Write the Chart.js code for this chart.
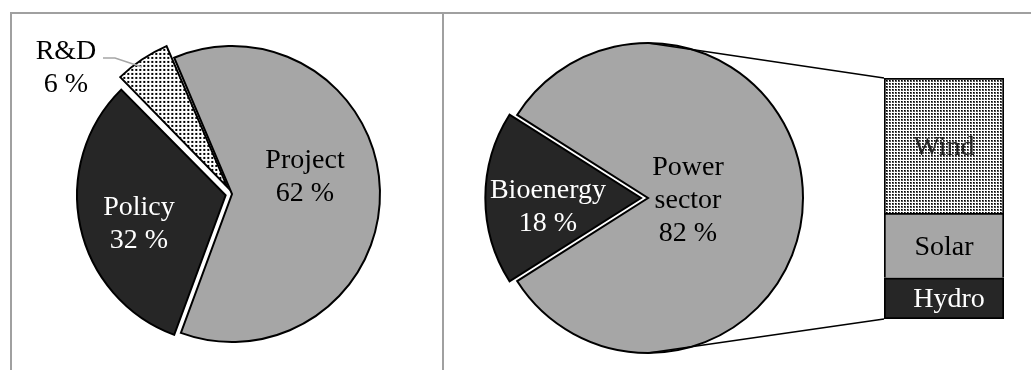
<!DOCTYPE html>
<html>
<head>
<meta charset="utf-8">
<script src="https://cdn.jsdelivr.net/npm/chart.js@4.4.1/dist/chart.umd.min.js"></script>
<style>
  html, body { margin: 0; padding: 0; background: #fff; overflow: hidden; width: 1031px; height: 370px; }
  #wrap { position: relative; width: 1031px; height: 370px; }
  canvas { position: absolute; }
  .rule { position: absolute; background: #a0a0a0; }
</style>
</head>
<body>
<div id="wrap">
  <div class="rule" style="left:10px;top:12px;width:1021px;height:2px"></div>
  <div class="rule" style="left:10px;top:12px;width:2px;height:358px"></div>
  <div class="rule" style="left:442px;top:12px;width:2px;height:358px"></div>
  <canvas id="fundingPie" width="464" height="370" style="left:0;top:0"></canvas>
  <canvas id="powerBar" width="128" height="249" style="left:880px;top:74px"></canvas>
  <canvas id="sectorPie" width="579" height="370" style="left:452px;top:0"></canvas>
</div>
<script>
// Funding by type of support (%)
const fundingTypes = ['Project', 'Policy', 'R&D'];
const fundingShares = [62, 32, 6];

// Split between bioenergy and the power sector (%)
const sectorNames = ['Bioenergy', 'Power sector'];
const sectorShares = [18, 82];

// Power sector broken down by source (%), bottom to top
const powerSources = ['Hydro', 'Solar', 'Wind'];
const powerShares = [14, 22, 46];

const GRAY = '#a6a6a6';
const DARK = '#262626';
const FONT = '28px "Liberation Serif", "Times New Roman", serif';
const LINE_H = 33;

// Small dotted fills
function dotPattern(size, paint) {
  const c = document.createElement('canvas');
  c.width = size; c.height = size;
  const g = c.getContext('2d');
  g.fillStyle = '#fff';
  g.fillRect(0, 0, size, size);
  paint(g);
  return g.createPattern(c, 'repeat');
}
const coarseDots = dotPattern(4, g => { g.fillStyle = '#000'; g.fillRect(0, 0, 2, 2); });
const fineDots = dotPattern(3, g => {
  g.fillStyle = '#555'; g.fillRect(0, 0, 2, 2);
  g.fillStyle = '#000'; g.fillRect(0, 0, 1, 1);
});

// Where each slice's text sits, relative to the pie centre (first baseline)
const labelLayout = {
  'Project':      { dx: 73,   dy: -26,  color: '#000' },
  'Policy':       { dx: -93,  dy: 21,   color: '#fff' },
  'R&D':          { dx: -166, dy: -135, color: '#000',
                    leader: [[-129, -136], [-117, -136], [-90, -127]] },
  'Bioenergy':    { dx: -100, dy: 0,    color: '#fff' },
  'Power sector': { dx: 40,   dy: -23,  color: '#000' }
};

const sliceLabels = {
  id: 'sliceLabels',
  afterDatasetsDraw(chart) {
    const ctx = chart.ctx;
    const meta = chart.getDatasetMeta(0);
    const values = chart.data.datasets[0].data;
    ctx.save();
    ctx.font = FONT;
    ctx.textAlign = 'center';
    ctx.textBaseline = 'alphabetic';
    chart.data.labels.forEach((name, i) => {
      const arc = meta.data[i];
      const spot = labelLayout[name];
      if (!spot) return;
      const cx = arc.x, cy = arc.y;
      if (spot.leader) {
        ctx.strokeStyle = GRAY;
        ctx.lineWidth = 1.5;
        ctx.beginPath();
        spot.leader.forEach(([px, py], k) => {
          if (k === 0) ctx.moveTo(cx + px, cy + py); else ctx.lineTo(cx + px, cy + py);
        });
        ctx.stroke();
      }
      const lines = name.split(' ').concat([values[i] + ' %']);
      ctx.fillStyle = spot.color;
      lines.forEach((t, k) => ctx.fillText(t, cx + spot.dx, cy + spot.dy + k * LINE_H));
    });
    ctx.restore();
  }
};

const noChrome = { legend: { display: false }, tooltip: { enabled: false } };

new Chart(document.getElementById('fundingPie'), {
  type: 'pie',
  data: {
    labels: fundingTypes,
    datasets: [{
      data: fundingShares,
      backgroundColor: [GRAY, DARK, coarseDots],
      borderColor: '#000',
      borderWidth: 2,
      borderJoinStyle: 'miter',
      offset: [0, 26, 34]
    }]
  },
  options: {
    responsive: false,
    animation: false,
    events: [],
    rotation: -23,
    radius: 148,
    layout: { padding: { top: 18 } },
    plugins: noChrome
  },
  plugins: [sliceLabels]
});

// Stacked column for the power sector sources
const barLabelShift = { 'Hydro': 5, 'Solar': 0, 'Wind': 0 };
const barLabelColor = { 'Hydro': '#fff', 'Solar': '#000', 'Wind': '#262626' };
const barFills = { 'Hydro': DARK, 'Solar': GRAY, 'Wind': fineDots };

const barLabels = {
  id: 'barLabels',
  afterDatasetsDraw(chart) {
    const ctx = chart.ctx;
    ctx.save();
    ctx.font = FONT;
    ctx.textAlign = 'center';
    ctx.textBaseline = 'alphabetic';
    chart.data.datasets.forEach((ds, i) => {
      const el = chart.getDatasetMeta(i).data[0];
      const mid = (el.y + el.base) / 2;
      ctx.fillStyle = barLabelColor[ds.label];
      ctx.fillText(ds.label, el.x + barLabelShift[ds.label], mid + 9);
    });
    ctx.restore();
  }
};

const powerTotal = powerShares.reduce((a, b) => a + b, 0);
const powerBar = new Chart(document.getElementById('powerBar'), {
  type: 'bar',
  data: {
    labels: ['Power sector'],
    datasets: powerSources.map((src, i) => ({
      label: src,
      data: [powerShares[i]],
      backgroundColor: barFills[src],
      borderColor: '#000',
      borderWidth: 2,
      borderSkipped: i === 0 ? false : 'bottom',
      barPercentage: 1,
      categoryPercentage: 1
    }))
  },
  options: {
    responsive: false,
    animation: false,
    events: [],
    layout: { padding: 4 },
    scales: {
      x: { display: false, stacked: true },
      y: { display: false, stacked: true, min: 0, max: powerTotal }
    },
    plugins: noChrome
  },
  plugins: [barLabels]
});

// Lines joining the power sector slice to the column
const connectors = {
  id: 'connectors',
  afterDatasetsDraw(chart) {
    const arc = chart.getDatasetMeta(0).data[1];
    const barCanvas = powerBar.canvas;
    const shiftX = barCanvas.offsetLeft - chart.canvas.offsetLeft;
    const shiftY = barCanvas.offsetTop - chart.canvas.offsetTop;
    const area = powerBar.chartArea;
    const ctx = chart.ctx;
    ctx.save();
    ctx.strokeStyle = '#000';
    ctx.lineWidth = 1.75;
    ctx.beginPath();
    ctx.moveTo(arc.x, arc.y - arc.outerRadius);
    ctx.lineTo(area.left + shiftX, area.top + shiftY);
    ctx.moveTo(arc.x, arc.y + arc.outerRadius);
    ctx.lineTo(area.left + shiftX, area.bottom + shiftY);
    ctx.stroke();
    ctx.restore();
  }
};

new Chart(document.getElementById('sectorPie'), {
  type: 'pie',
  data: {
    labels: sectorNames,
    datasets: [{
      data: sectorShares,
      backgroundColor: [DARK, GRAY],
      borderColor: '#000',
      borderWidth: 2,
      borderJoinStyle: 'miter',
      offset: [28, 0]
    }]
  },
  options: {
    responsive: false,
    animation: false,
    events: [],
    rotation: 237.6,
    radius: 155,
    layout: { padding: { top: 26, right: 187 } },
    plugins: noChrome
  },
  plugins: [sliceLabels, connectors]
});
</script>
</body>
</html>
